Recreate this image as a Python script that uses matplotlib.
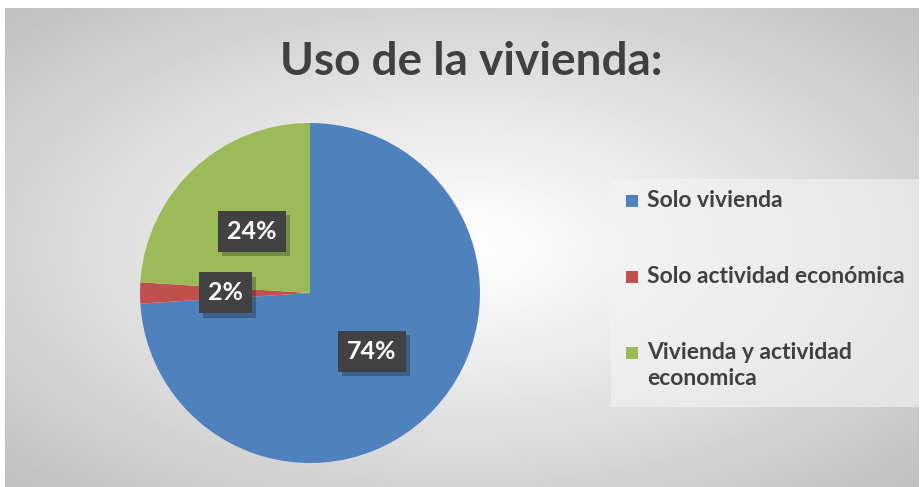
import numpy as np
import matplotlib
matplotlib.use("Agg")
import matplotlib.pyplot as plt
from matplotlib.patches import Rectangle
import matplotlib.patheffects as pe

plt.rcParams['font.family'] = ['Lato', 'DejaVu Sans']

# data
categories = ["Solo vivienda", "Solo actividad económica", "Vivienda y actividad\neconomica"]
values = [74, 2, 24]
colors = ["#4F81BD", "#C0504D", "#9BBB59"]
title = "Uso de la vivienda:"

W, H = 924, 487
fig = plt.figure(figsize=(W / 100, H / 100), dpi=100, facecolor="white")

# background with radial gradient
bg = fig.add_axes([5 / W, 0, 914 / W, 479 / H], zorder=-10)
yy, xx = np.mgrid[0:1:300j, 0:1:500j]
d = np.sqrt(((xx - 0.5) / 0.5) ** 2 + ((yy - 0.5) / 0.5) ** 2) / np.sqrt(2)
shade = 1 - 0.25 * np.clip(d, 0, 1) ** 1.1
bg.imshow(shade, cmap="gray", vmin=0, vmax=1, aspect="auto", extent=(0, 1, 0, 1))
bg.axis("off")

# title
fig.text(471 / W, 1 - 62 / H, title, ha="center", va="center",
         fontsize=33, fontweight="bold", color="#404040")

# pie
cx, cy, r = 310, 293, 170
ax = fig.add_axes([(cx - r) / W, (H - cy - r) / H, 2 * r / W, 2 * r / H])
wedges, texts, autotexts = ax.pie(values, colors=colors, startangle=90, counterclock=False,
                                  autopct="%1.0f%%", pctdistance=0.5,
                                  wedgeprops=dict(linewidth=0))
ax.set_xlim(-1, 1)
ax.set_ylim(-1, 1)
ax.set_aspect("equal")

for t in autotexts:
    t.set_fontsize(18)
    t.set_fontweight("bold")
    t.set_color("white")
    t.set_zorder(5)
    t.set_bbox(dict(boxstyle="square,pad=0.36", facecolor="#424242", linewidth=0))
    t.get_bbox_patch().set_path_effects([
        pe.SimplePatchShadow(offset=(3, -3), shadow_rgbFace="black", alpha=0.25),
        pe.Normal()])

# legend
lax = fig.add_axes([0, 0, 1, 1], zorder=-5)
lax.set_xlim(0, W)
lax.set_ylim(H, 0)
lax.axis("off")
lax.add_patch(Rectangle((611, 179), 308, 228, facecolor="#f4f4f4", alpha=0.6, linewidth=0))
entry_y = [201, 277, 353]
for lab, col, ey in zip(categories, colors, entry_y):
    lax.add_patch(Rectangle((626, ey - 6), 12, 12, facecolor=col, linewidth=0))
    lax.text(647, ey - 11, lab, ha="left", va="top", fontsize=16.5, fontweight="bold",
             color="#404040", linespacing=1.3)

fig.savefig("out.png", dpi=100, facecolor="white")
